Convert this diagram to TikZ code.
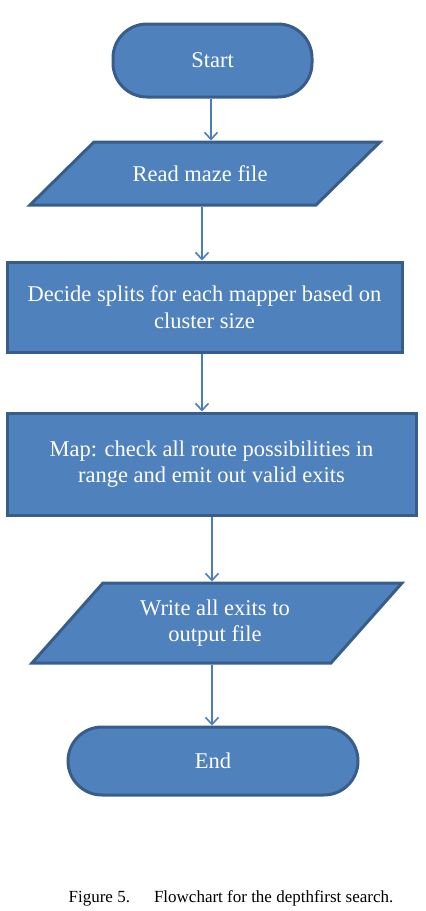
\documentclass[tikz,border=0pt]{standalone}
\usepackage{fontspec}
\setmainfont{Liberation Serif}
\usetikzlibrary{arrows.meta,calc,backgrounds}
\definecolor{boxfill}{HTML}{4F81BD}
\definecolor{boxline}{HTML}{385D8A}
\definecolor{arrcol}{HTML}{4A7EBB}
\tikzset{
  shapeline/.style={draw=boxline, line width=3pt, fill=boxfill},
  base/.style={shapeline, text=white,
    font=\fontsize{22.5}{26.5}\selectfont, align=center, inner sep=0pt},
  term/.style={base, rectangle, rounded corners=34pt},
  procbox/.style={base, rectangle},
  iobox/.style={base, rectangle, draw=none, fill=none},
  arr/.style={draw=arrcol, line width=2pt, -{Straight Barb[length=7pt,width=13pt,line width=1.6pt]}},
}
\begin{document}
\begin{tikzpicture}[x=1pt,y=-1pt]
\useasboundingbox (0,0) rectangle (426,911);
\node[term, minimum width=199, minimum height=73] (start) at (212.5,60.5) {Start};
\node[iobox, minimum height=63] (read) at (200,173.5) {Read maze file};
\node[procbox, minimum width=395, minimum height=90] (decide) at (204.5,307) {Decide splits for each mapper based on\\cluster size};
\node[procbox, minimum width=409, minimum height=102] (map) at (211.5,464) {Map: check all route possibilities in\\range and emit out valid exits};
\node[iobox, minimum height=80] (write) at (215,623) {Write all exits to\\output file};
\node[term, minimum width=290, minimum height=68] (end) at (213,761) {End};
\node[font=\fontsize{17}{20}\selectfont, inner sep=0pt] (cap) at (231,898) {Figure 5.\hspace{24pt}Flowchart for the depthfirst search.};
\begin{scope}[on background layer]
\draw[shapeline] ($(read)+(-106,-31.5)$) -- ($(read)+(180,-31.5)$) -- ($(read)+(116,31.5)$) -- ($(read)+(-170,31.5)$) -- cycle;
\draw[shapeline] ($(write)+(-112,-40)$) -- ($(write)+(187,-40)$) -- ($(write)+(116,40)$) -- ($(write)+(-183,40)$) -- cycle;
\end{scope}
\coordinate (x1) at (211,0);
\coordinate (x2) at (202,0);
\coordinate (x3) at (212,0);
\draw[arr] (start.south -| x1) -- (read.north -| x1);
\draw[arr] (read.south -| x2) -- (decide.north -| x2);
\draw[arr] (decide.south -| x2) -- (map.north -| x2);
\draw[arr] (map.south -| x3) -- (write.north -| x3);
\draw[arr] (write.south -| x3) -- (end.north -| x3);
\end{tikzpicture}
\end{document}
